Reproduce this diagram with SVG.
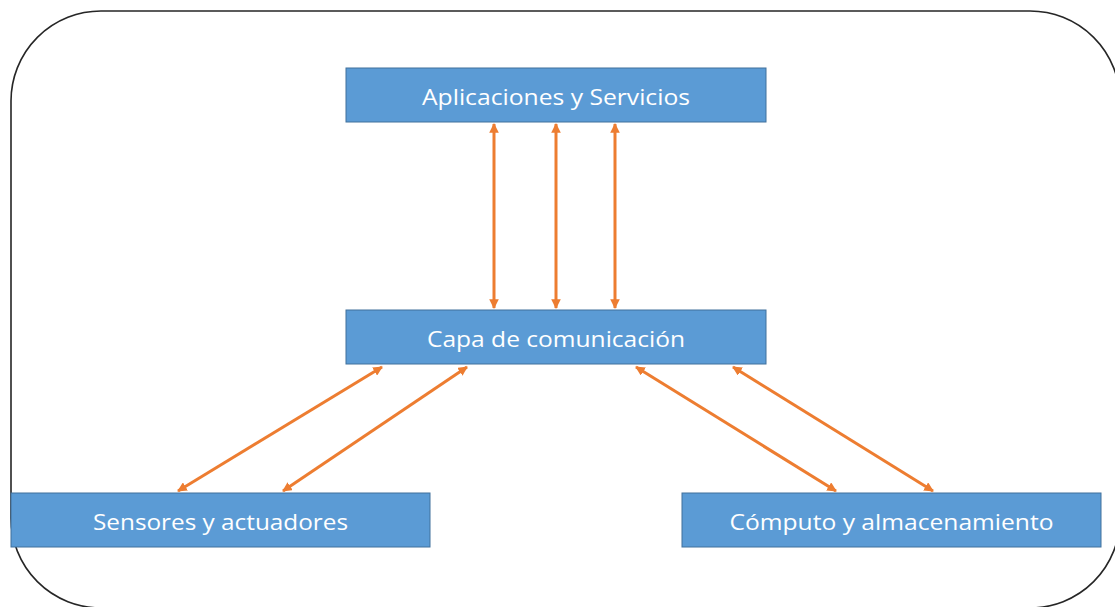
<svg xmlns="http://www.w3.org/2000/svg" width="1115" height="607" viewBox="0 0 1115 607">
  <style>
    .box { fill: #5B9BD5; stroke: #41719C; stroke-width: 1; }
    .label { fill: #FFFFFF; font-family: "Open Sans", "Liberation Sans", sans-serif; font-size: 22px; text-anchor: middle; dominant-baseline: central; }
    .link { stroke: #ED7D31; stroke-width: 3; fill: none; marker-start: url(#head); marker-end: url(#head); }
  </style>
  <defs>
    <marker id="head" viewBox="0 0 10 10" refX="9" refY="5" markerWidth="3.2" markerHeight="3.2" orient="auto-start-reverse" markerUnits="strokeWidth">
      <path d="M0,0 L10,5 L0,10 z" fill="#ED7D31"/>
    </marker>
  </defs>

  <rect width="1115" height="607" fill="#FFFFFF"/>

  <!-- outer frame -->
  <rect x="11" y="11" width="1109" height="597" rx="90" ry="90" fill="none" stroke="#262626" stroke-width="1.6"/>

  <!-- connectors -->
  <g id="connectors">
    <line class="link" x1="494" y1="124" x2="494" y2="308"/>
    <line class="link" x1="556" y1="124" x2="556" y2="308"/>
    <line class="link" x1="615" y1="124" x2="615" y2="308"/>
    <line class="link" x1="382" y1="367" x2="178" y2="491"/>
    <line class="link" x1="467" y1="367" x2="283" y2="491"/>
    <line class="link" x1="636" y1="367" x2="836" y2="491"/>
    <line class="link" x1="733" y1="367" x2="933" y2="491"/>
  </g>

  <g id="apps">
    <rect class="box" x="346" y="68" width="420" height="54"/>
    <text class="label" x="556" y="96" textLength="268" lengthAdjust="spacingAndGlyphs">Aplicaciones y Servicios</text>
  </g>

  <g id="comms">
    <rect class="box" x="346" y="310" width="420" height="54"/>
    <text class="label" x="556" y="338" textLength="258" lengthAdjust="spacingAndGlyphs">Capa de comunicación</text>
  </g>

  <g id="sensors">
    <rect class="box" x="11" y="493" width="419" height="54"/>
    <text class="label" x="220.5" y="521" textLength="255" lengthAdjust="spacingAndGlyphs">Sensores y actuadores</text>
  </g>

  <g id="compute">
    <rect class="box" x="682" y="493" width="419" height="54"/>
    <text class="label" x="891.5" y="521" textLength="324" lengthAdjust="spacingAndGlyphs">Cómputo y almacenamiento</text>
  </g>
</svg>
